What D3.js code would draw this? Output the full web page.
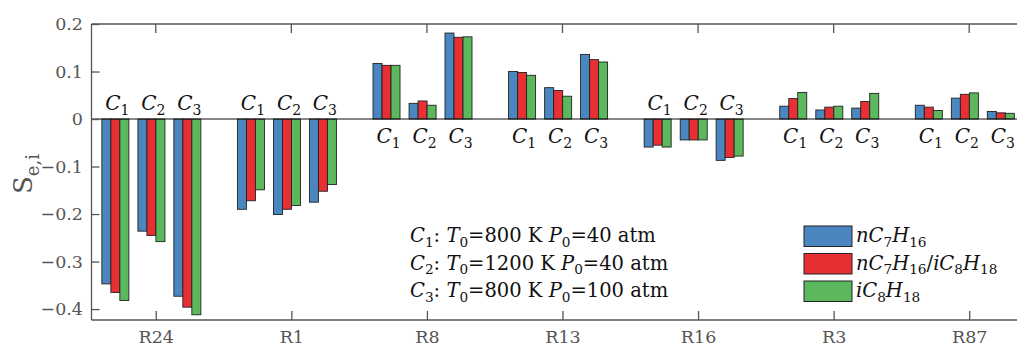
<!DOCTYPE html>
<html>
<head>
<meta charset="utf-8">
<script src="https://cdn.jsdelivr.net/npm/d3@7"></script>
<style>
  body { margin: 0; background: #fff; }
  svg { display: block; font-family: "DejaVu Serif", "Liberation Serif", serif; }
</style>
</head>
<body>
<svg width="1017" height="347"></svg>
<script>
const categories = ['R24', 'R1', 'R8', 'R13', 'R16', 'R3', 'R87'];
const conditions = ['1', '2', '3'];
const fuels = ['nC7H16', 'nC7H16/iC8H18', 'iC8H18'];
const yTicks = [-0.4, -0.3, -0.2, -0.1, 0, 0.1, 0.2];

// values per category: [C1, C2, C3]
const nHeptane = [
  [-0.347, -0.236, -0.373], [-0.190, -0.201, -0.175], [0.117, 0.033, 0.181],
  [0.100, 0.066, 0.136], [-0.059, -0.044, -0.087], [0.027, 0.019, 0.023],
  [0.029, 0.044, 0.016]
];
const blend = [
  [-0.365, -0.245, -0.396], [-0.172, -0.190, -0.152], [0.113, 0.038, 0.172],
  [0.098, 0.060, 0.125], [-0.055, -0.044, -0.081], [0.043, 0.025, 0.037],
  [0.025, 0.052, 0.013]
];
const isoOctane = [
  [-0.382, -0.258, -0.412], [-0.149, -0.182, -0.138], [0.113, 0.029, 0.173],
  [0.092, 0.048, 0.120], [-0.059, -0.044, -0.078], [0.056, 0.027, 0.054],
  [0.018, 0.055, 0.012]
];

const series = [nHeptane, blend, isoOctane];
const colors = ['#4a87c0', '#e83034', '#5cb85c'];
const font = '"DejaVu Serif", "Liberation Serif", serif';

const svg = d3.select('svg');
const plotLeft = 91.5, plotTop = 24, plotBottom = 320;

const x = d3.scaleLinear().domain([0.526, 7.5]).range([plotLeft, 1037]);
const y = d3.scaleLinear().domain([-0.423, 0.2]).range([plotBottom, plotTop]);

const groupOffset = [-0.298, -0.032, 0.233];
const barW = 9;

// helper for text with italics / subscripts
function richText(sel, parts, size) {
  let shift = 0;
  parts.forEach(p => {
    const target = p.sub ? size * 0.25 : 0;
    sel.append('tspan')
      .attr('dy', target - shift)
      .style('font-size', p.sub ? size * 0.7 + 'px' : size + 'px')
      .style('font-style', p.it ? 'italic' : 'normal')
      .text(p.t);
    shift = target;
  });
}

// bars
const bars = [];
categories.forEach((cat, ci) => {
  conditions.forEach((c, gi) => {
    series.forEach((s, si) => {
      bars.push({ cat: ci, group: gi, s: si, v: s[ci][gi] });
    });
  });
});

svg.append('g').selectAll('rect')
  .data(bars)
  .enter().append('rect')
  .attr('x', d => x(d.cat + 1 + groupOffset[d.group]) - 1.5 * barW + d.s * barW)
  .attr('y', d => y(Math.max(0, d.v)))
  .attr('width', barW)
  .attr('height', d => Math.abs(y(d.v) - y(0)))
  .style('fill', d => colors[d.s])
  .style('stroke', '#222')
  .style('stroke-width', 0.9);

// zero baseline
svg.append('line')
  .attr('x1', plotLeft).attr('x2', 1017)
  .attr('y1', y(0)).attr('y2', y(0))
  .style('stroke', '#111').style('stroke-width', 1);

// C labels
categories.forEach((cat, ci) => {
  const negative = series.every(s => s[ci].every(v => v <= 0));
  conditions.forEach((c, gi) => {
    const t = svg.append('text')
      .attr('x', x(ci + 1 + groupOffset[gi]) + 2)
      .attr('y', negative ? y(0) - 9 : y(0) + 24)
      .attr('text-anchor', 'middle')
      .style('fill', '#111');
    richText(t, [{ t: 'C', it: true }, { t: c, sub: true }], 20);
  });
});

// axes box
const axisColor = '#555';
svg.append('line').attr('x1', plotLeft).attr('x2', 1017).attr('y1', plotTop).attr('y2', plotTop)
  .style('stroke', axisColor).style('stroke-width', 1.3);
svg.append('line').attr('x1', plotLeft).attr('x2', 1017).attr('y1', plotBottom).attr('y2', plotBottom)
  .style('stroke', axisColor).style('stroke-width', 1.3);
svg.append('line').attr('x1', plotLeft).attr('x2', plotLeft).attr('y1', plotTop).attr('y2', plotBottom)
  .style('stroke', axisColor).style('stroke-width', 1.3);

// x ticks
const xAxis = svg.append('g').attr('transform', `translate(0,${plotBottom})`)
  .call(d3.axisBottom(x).tickValues(d3.range(1, 8)).tickSize(-9).tickPadding(11)
    .tickFormat(d => categories[d - 1]));
xAxis.select('.domain').remove();
xAxis.selectAll('line').style('stroke', axisColor).style('stroke-width', 1.3);
xAxis.selectAll('text').style('font-family', font)
  .style('font-size', '17.5px').style('fill', '#555');

svg.append('g').selectAll('line')
  .data(d3.range(1, 8)).enter().append('line')
  .attr('x1', d => x(d)).attr('x2', d => x(d))
  .attr('y1', plotTop).attr('y2', plotTop + 9)
  .style('stroke', axisColor).style('stroke-width', 1.3);

// y ticks
const yAxis = svg.append('g').attr('transform', `translate(${plotLeft},0)`)
  .call(d3.axisLeft(y).tickValues(yTicks).tickSize(-8).tickPadding(8.5)
    .tickFormat(d => d === 0 ? '0' : d3.format('.1f')(d)));
yAxis.select('.domain').remove();
yAxis.selectAll('line').style('stroke', axisColor).style('stroke-width', 1.3);
yAxis.selectAll('text').style('font-family', font)
  .style('font-size', '17.5px').style('fill', '#555');

// y label
const yl = svg.append('text')
  .attr('transform', 'translate(32,174) rotate(-90)')
  .attr('text-anchor', 'middle')
  .style('fill', '#555');
richText(yl, [{ t: 'S' }, { t: 'e,i', sub: true }], 26);

// condition text block
const condText = [
  [{ t: 'C', it: true }, { t: '1', sub: true }, { t: ': ' }, { t: 'T', it: true }, { t: '0', sub: true }, { t: '=800 K ' }, { t: 'P', it: true }, { t: '0', sub: true }, { t: '=40 atm' }],
  [{ t: 'C', it: true }, { t: '2', sub: true }, { t: ': ' }, { t: 'T', it: true }, { t: '0', sub: true }, { t: '=1200 K ' }, { t: 'P', it: true }, { t: '0', sub: true }, { t: '=40 atm' }],
  [{ t: 'C', it: true }, { t: '3', sub: true }, { t: ': ' }, { t: 'T', it: true }, { t: '0', sub: true }, { t: '=800 K ' }, { t: 'P', it: true }, { t: '0', sub: true }, { t: '=100 atm' }]
];
condText.forEach((parts, i) => {
  const t = svg.append('text').attr('x', 410).attr('y', 242 + i * 27.5)
    .style('fill', '#111').attr('xml:space', 'preserve');
  richText(t, parts, 19.5);
});

// legend
const legendParts = [
  [{ t: 'nC', it: true }, { t: '7', sub: true }, { t: 'H', it: true }, { t: '16', sub: true }],
  [{ t: 'nC', it: true }, { t: '7', sub: true }, { t: 'H', it: true }, { t: '16', sub: true }, { t: '/' }, { t: 'iC', it: true }, { t: '8', sub: true }, { t: 'H', it: true }, { t: '18', sub: true }],
  [{ t: 'iC', it: true }, { t: '8', sub: true }, { t: 'H', it: true }, { t: '18', sub: true }]
];
fuels.forEach((f, i) => {
  svg.append('rect')
    .attr('x', 804).attr('y', 226 + i * 27.5)
    .attr('width', 48).attr('height', 20.5)
    .style('fill', colors[i]).style('stroke', '#222').style('stroke-width', 1);
  const t = svg.append('text').attr('x', 856).attr('y', 242 + i * 27.5).style('fill', '#111');
  richText(t, legendParts[i], 19.5);
});
</script>
</body>
</html>
